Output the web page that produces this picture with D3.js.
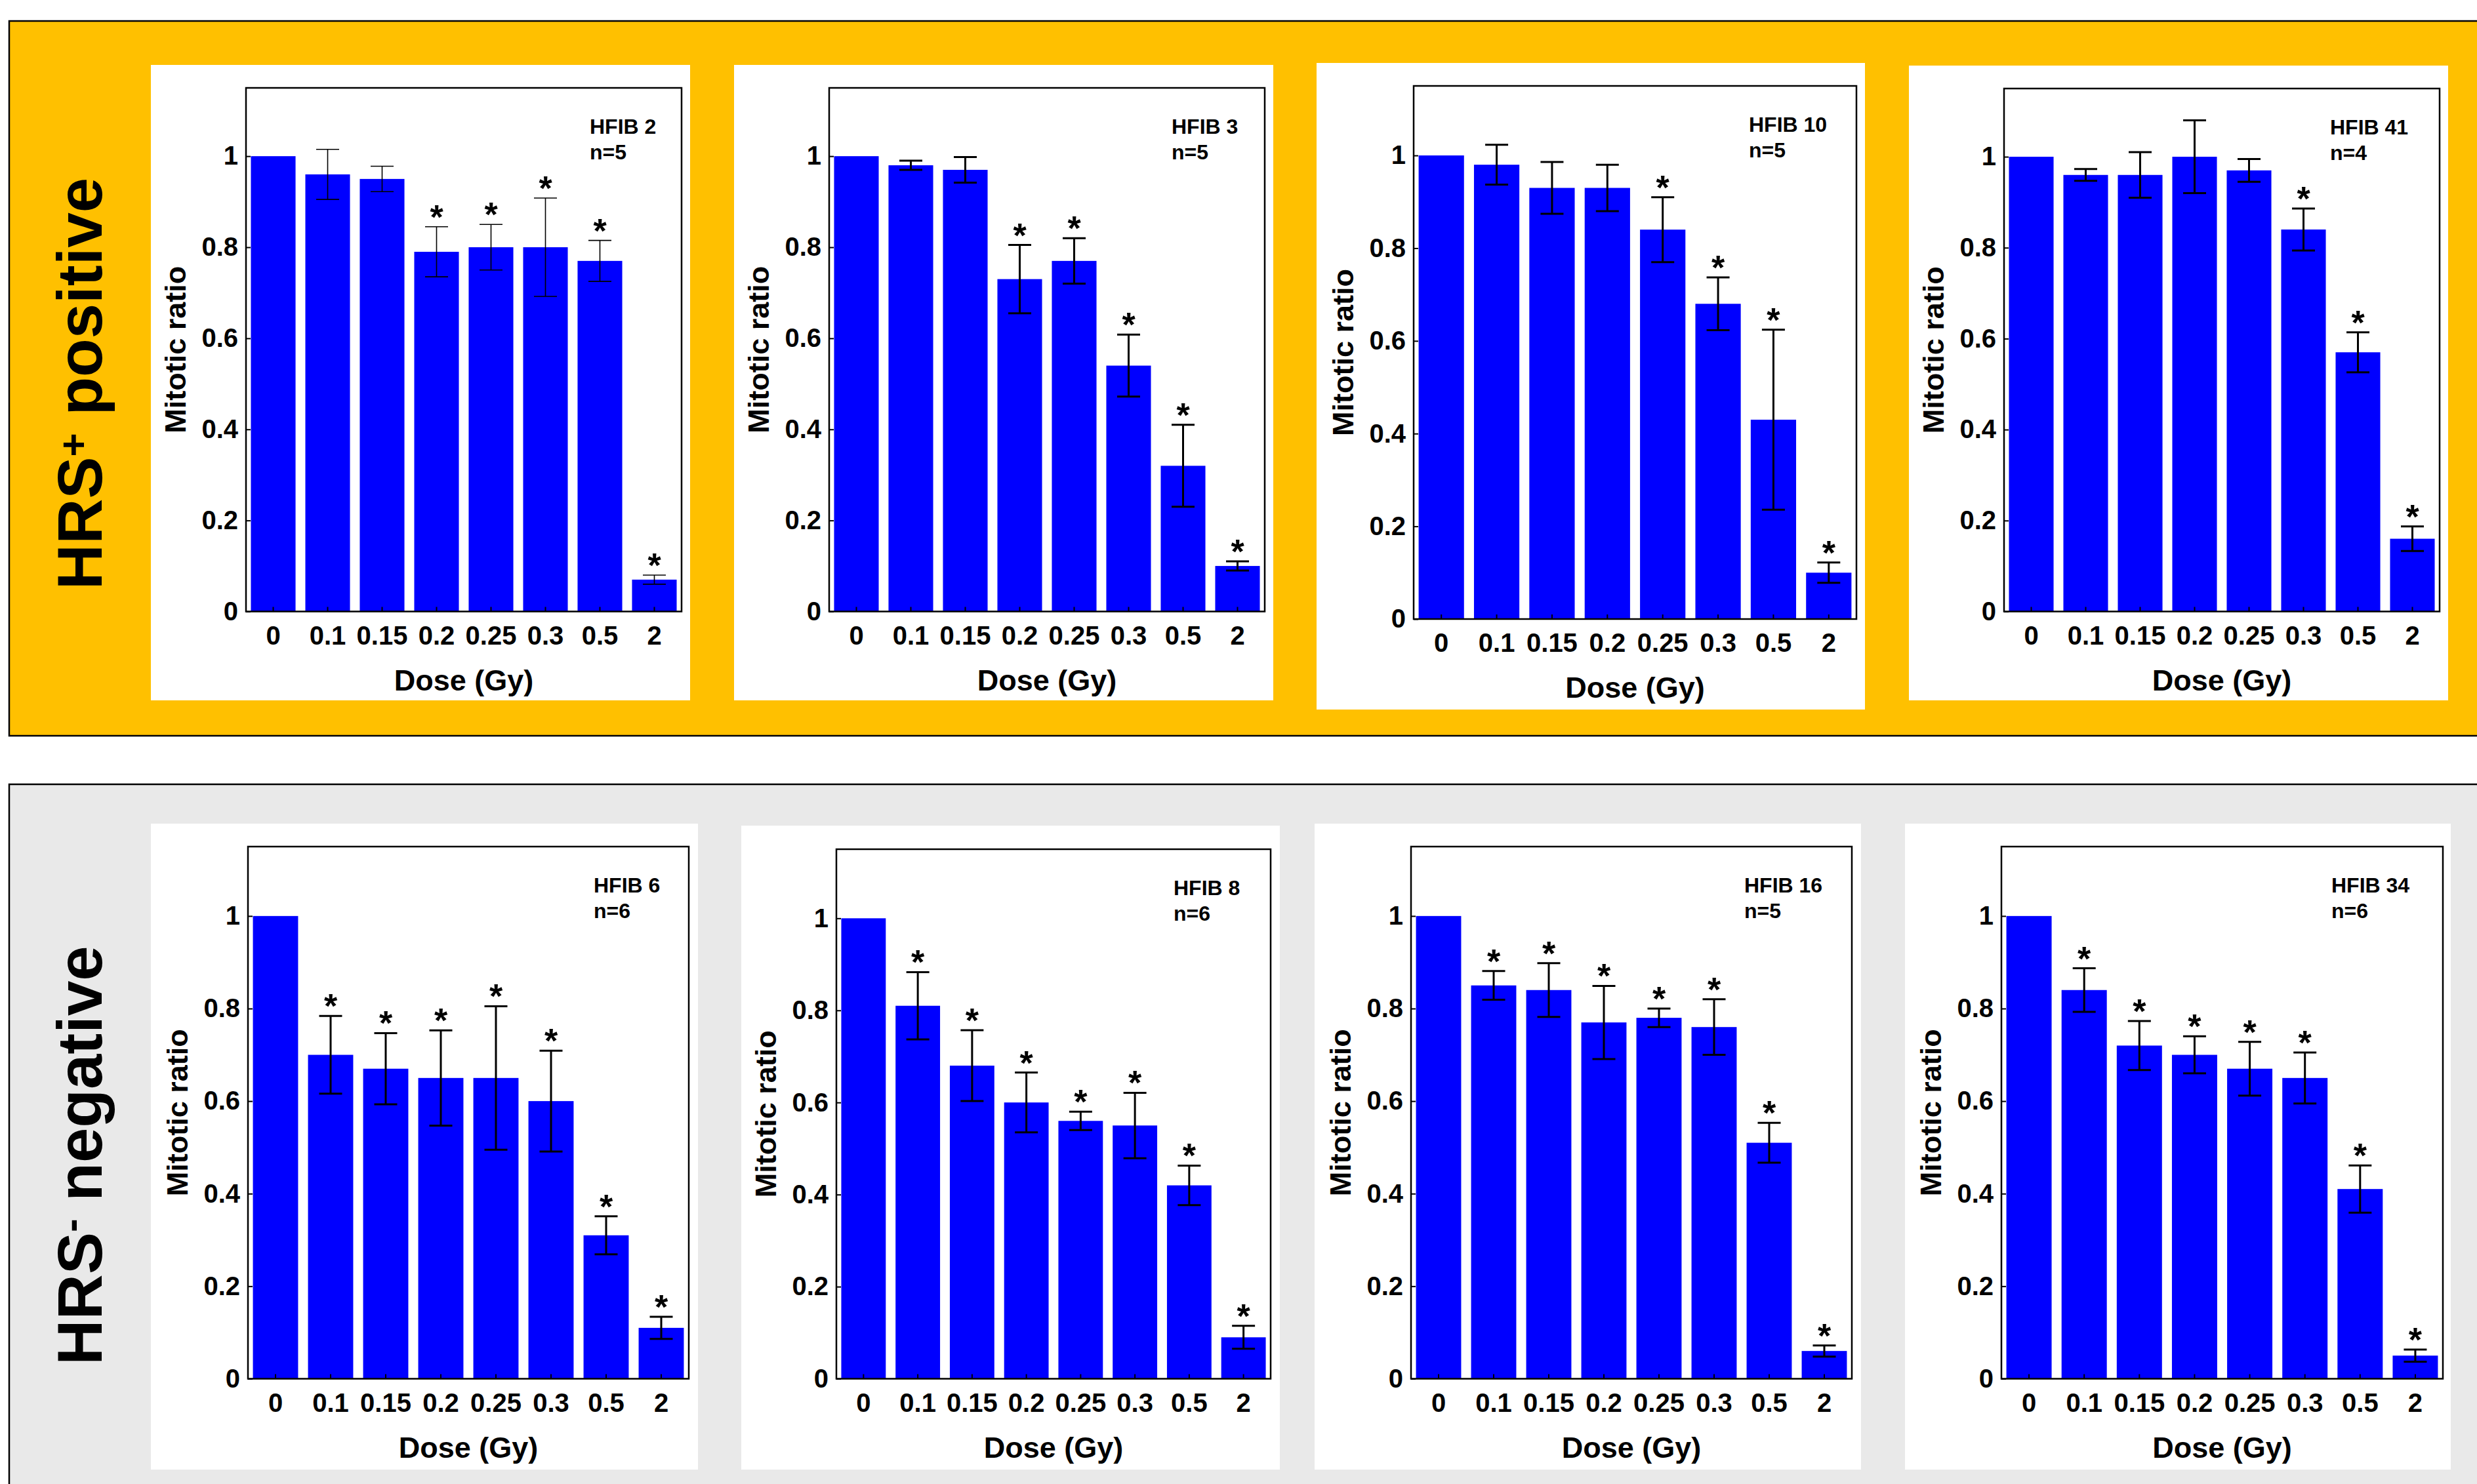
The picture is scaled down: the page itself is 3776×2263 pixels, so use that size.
<!DOCTYPE html>
<html>
<head>
<meta charset="utf-8">
<script src="https://cdn.jsdelivr.net/npm/d3@7"></script>
<style>
  html, body { margin: 0; padding: 0; background: #ffffff; }
  text { font-family: "Liberation Sans", Arial, Helvetica, sans-serif; font-weight: bold; fill: #000; }
</style>
</head>
<body>
<script>
// ---------- data ----------
const doses = ["0", "0.1", "0.15", "0.2", "0.25", "0.3", "0.5", "2"];
const yTicks = [0, 0.2, 0.4, 0.6, 0.8, 1];

const panelNames = ["HFIB 2", "HFIB 3", "HFIB 10", "HFIB 41", "HFIB 6", "HFIB 8", "HFIB 16", "HFIB 34"];
const panelN = ["n=5", "n=5", "n=5", "n=4", "n=6", "n=6", "n=5", "n=6"];

const hfib2Mean = [1, 0.96, 0.95, 0.79, 0.80, 0.80, 0.77, 0.07];
const hfib2Err  = [0, 0.055, 0.028, 0.055, 0.05, 0.108, 0.045, 0.01];
const hfib2Sig  = [0, 0, 0, 1, 1, 1, 1, 1];

const hfib3Mean = [1, 0.98, 0.97, 0.73, 0.77, 0.54, 0.32, 0.10];
const hfib3Err  = [0, 0.01, 0.028, 0.075, 0.05, 0.068, 0.09, 0.01];
const hfib3Sig  = [0, 0, 0, 1, 1, 1, 1, 1];

const hfib10Mean = [1, 0.98, 0.93, 0.93, 0.84, 0.68, 0.43, 0.10];
const hfib10Err  = [0, 0.043, 0.056, 0.05, 0.07, 0.057, 0.194, 0.022];
const hfib10Sig  = [0, 0, 0, 0, 1, 1, 1, 1];

const hfib41Mean = [1, 0.96, 0.96, 1.0, 0.97, 0.84, 0.57, 0.16];
const hfib41Err  = [0, 0.013, 0.05, 0.08, 0.025, 0.046, 0.044, 0.027];
const hfib41Sig  = [0, 0, 0, 0, 0, 1, 1, 1];

const hfib6Mean = [1, 0.70, 0.67, 0.65, 0.65, 0.60, 0.31, 0.11];
const hfib6Err  = [0, 0.084, 0.077, 0.103, 0.155, 0.109, 0.041, 0.024];
const hfib6Sig  = [0, 1, 1, 1, 1, 1, 1, 1];

const hfib8Mean = [1, 0.81, 0.68, 0.60, 0.56, 0.55, 0.42, 0.09];
const hfib8Err  = [0, 0.073, 0.077, 0.065, 0.02, 0.071, 0.043, 0.025];
const hfib8Sig  = [0, 1, 1, 1, 1, 1, 1, 1];

const hfib16Mean = [1, 0.85, 0.84, 0.77, 0.78, 0.76, 0.51, 0.06];
const hfib16Err  = [0, 0.031, 0.058, 0.079, 0.02, 0.06, 0.043, 0.012];
const hfib16Sig  = [0, 1, 1, 1, 1, 1, 1, 1];

const hfib34Mean = [1, 0.84, 0.72, 0.70, 0.67, 0.65, 0.41, 0.05];
const hfib34Err  = [0, 0.047, 0.053, 0.04, 0.058, 0.055, 0.051, 0.013];
const hfib34Sig  = [0, 1, 1, 1, 1, 1, 1, 1];

const groupLabels = [
  { main: "HRS", sup: "+", rest: " positive" },
  { main: "HRS", sup: "-", rest: " negative" }
];

// ---------- layout (positions / styles only) ----------
const layout = [
  { frame: [375, 134, 1039, 932.5], white: [230, 99, 1052, 1068], labelDx: 524, errW: 1.6 },
  { frame: [1264, 134, 1928, 932.5], white: [1119, 99, 1941, 1068], labelDx: 522, errW: 3 },
  { frame: [2155, 131, 2830, 944], white: [2007, 96, 2843, 1082], labelDx: 511, errW: 3 },
  { frame: [3055, 135, 3719, 932.5], white: [2910, 100, 3732, 1068], labelDx: 497, errW: 3 },
  { frame: [378, 1291, 1050, 2102.5], white: [230, 1256, 1064, 2241], labelDx: 527, errW: 3 },
  { frame: [1275, 1295, 1937, 2102.5], white: [1130, 1259, 1951, 2241], labelDx: 514, errW: 3 },
  { frame: [2151, 1291, 2823, 2102.5], white: [2004, 1256, 2837, 2241], labelDx: 508, errW: 3 },
  { frame: [3051, 1291, 3724, 2102.5], white: [2904, 1256, 3736, 2241], labelDx: 503, errW: 3 }
];

const means = [hfib2Mean, hfib3Mean, hfib10Mean, hfib41Mean, hfib6Mean, hfib8Mean, hfib16Mean, hfib34Mean];
const errs  = [hfib2Err, hfib3Err, hfib10Err, hfib41Err, hfib6Err, hfib8Err, hfib16Err, hfib34Err];
const sigs  = [hfib2Sig, hfib3Sig, hfib10Sig, hfib41Sig, hfib6Sig, hfib8Sig, hfib16Sig, hfib34Sig];

const W = 3776, H = 2263;
const svg = d3.select("body").append("svg")
  .attr("width", W).attr("height", H)
  .style("display", "block");

svg.append("rect").attr("width", W).attr("height", H).attr("fill", "#ffffff");

// group boxes
svg.append("rect").attr("x", 14).attr("y", 32).attr("width", W + 20).attr("height", 1090)
  .attr("fill", "#FFC000").attr("stroke", "#000").attr("stroke-width", 2.5);
svg.append("rect").attr("x", 14).attr("y", 1196).attr("width", W + 20).attr("height", 1200)
  .attr("fill", "#E9E9E9").attr("stroke", "#000").attr("stroke-width", 2.5);

// group labels (rotated)
const groupPos = [{ x: 155, y: 585 }, { x: 155, y: 1762 }];
groupLabels.forEach((gl, i) => {
  const t = svg.append("text")
    .attr("transform", `translate(${groupPos[i].x},${groupPos[i].y}) rotate(-90)`)
    .attr("text-anchor", "middle")
    .style("font-size", "96px");
  t.append("tspan").text(gl.main);
  if (i === 0) {
    t.append("tspan").text(gl.sup).style("font-size", "62px").attr("dy", -22);
    t.append("tspan").text(gl.rest).attr("dy", 22);
  } else {
    t.append("tspan").text(gl.sup).style("font-size", "62px").attr("dy", -26);
    t.append("tspan").text(gl.rest).attr("dy", 26);
  }
});

// panels
layout.forEach((L, i) => {
  const mean = means[i], err = errs[i], sig = sigs[i];
  const data = doses.map((d, k) => ({ dose: d, m: mean[k], e: err[k], s: sig[k], k }));

  svg.append("rect")
    .attr("x", L.white[0]).attr("y", L.white[1])
    .attr("width", L.white[2] - L.white[0]).attr("height", L.white[3] - L.white[1])
    .attr("fill", "#ffffff");

  const w = L.frame[2] - L.frame[0];
  const h = L.frame[3] - L.frame[1];
  const g = svg.append("g").attr("transform", `translate(${L.frame[0]},${L.frame[1]})`);

  const x = d3.scaleBand().domain(doses).range([0, w]).paddingInner(0.18).paddingOuter(0.09);
  const y = d3.scaleLinear().domain([0, 1.15]).range([h, 0]);

  // bars
  g.selectAll("rect.bar").data(data).enter().append("rect")
    .attr("class", "bar")
    .attr("x", d => x(d.dose))
    .attr("y", d => y(d.m))
    .attr("width", x.bandwidth())
    .attr("height", d => h - y(d.m))
    .attr("fill", "#0000ff");

  // error bars
  const ed = data.filter(d => d.e > 0);
  const cap = 17.5;
  const eg = g.append("g").attr("stroke", "#000").attr("stroke-width", L.errW);
  eg.selectAll("line.v").data(ed).enter().append("line")
    .attr("x1", d => x(d.dose) + x.bandwidth() / 2)
    .attr("x2", d => x(d.dose) + x.bandwidth() / 2)
    .attr("y1", d => y(d.m - d.e)).attr("y2", d => y(d.m + d.e));
  eg.selectAll("line.t").data(ed).enter().append("line")
    .attr("x1", d => x(d.dose) + x.bandwidth() / 2 - cap)
    .attr("x2", d => x(d.dose) + x.bandwidth() / 2 + cap)
    .attr("y1", d => y(d.m + d.e)).attr("y2", d => y(d.m + d.e));
  eg.selectAll("line.b").data(ed).enter().append("line")
    .attr("x1", d => x(d.dose) + x.bandwidth() / 2 - cap)
    .attr("x2", d => x(d.dose) + x.bandwidth() / 2 + cap)
    .attr("y1", d => y(d.m - d.e)).attr("y2", d => y(d.m - d.e));

  // significance stars
  g.selectAll("text.star").data(data.filter(d => d.s)).enter().append("text")
    .attr("class", "star")
    .attr("x", d => x(d.dose) + x.bandwidth() / 2)
    .attr("y", d => y(d.m + d.e) + 3)
    .attr("text-anchor", "middle")
    .style("font-size", "52px")
    .text("*");

  // axes
  const xAxis = d3.axisBottom(x).tickSizeInner(-7).tickSizeOuter(0).tickPadding(22);
  const yAxis = d3.axisLeft(y).tickValues(yTicks).tickFormat(d3.format("")).tickSizeInner(-7).tickSizeOuter(0).tickPadding(12);

  const xa = g.append("g").attr("transform", `translate(0,${h})`).call(xAxis);
  const ya = g.append("g").call(yAxis);
  [xa, ya].forEach(a => {
    a.select(".domain").remove();
    a.selectAll(".tick line").attr("stroke", "#000").attr("stroke-width", 2);
    a.selectAll(".tick text").style("font-size", "40px")
      .style("font-family", '"Liberation Sans", Arial, sans-serif')
      .style("font-weight", "bold").attr("fill", "#000");
  });

  // frame
  g.append("rect").attr("x", 0).attr("y", 0).attr("width", w).attr("height", h)
    .attr("fill", "none").attr("stroke", "#000").attr("stroke-width", 2.5);

  // axis titles
  g.append("text")
    .attr("x", w / 2).attr("y", h + 120)
    .attr("text-anchor", "middle")
    .style("font-size", "45px")
    .text("Dose (Gy)");
  g.append("text")
    .attr("transform", `translate(-92,${h / 2}) rotate(-90)`)
    .attr("text-anchor", "middle")
    .style("font-size", "45px")
    .text("Mitotic ratio");

  // panel label
  g.append("text").attr("x", L.labelDx).attr("y", 70).style("font-size", "32px").text(panelNames[i]);
  g.append("text").attr("x", L.labelDx).attr("y", 109).style("font-size", "32px").text(panelN[i]);
});
</script>
</body>
</html>
